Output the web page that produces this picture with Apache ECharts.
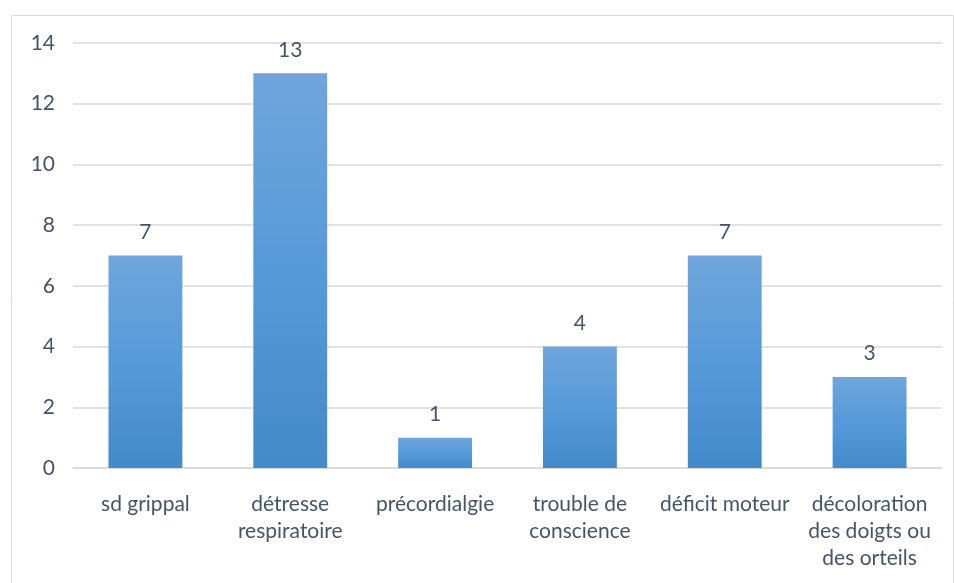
<!DOCTYPE html>
<html>
<head>
<meta charset="utf-8">
<script src="https://cdn.jsdelivr.net/npm/echarts@6/dist/echarts.min.js"></script>
<style>
  html, body { margin: 0; padding: 0; background: #ffffff; }
  #chart { width: 954px; height: 583px; }
</style>
</head>
<body>
<div id="chart"></div>
<script>
// Symptom categories and counts
const categories = [
  'sd grippal',
  'détresse\nrespiratoire',
  'précordialgie',
  'trouble de\nconscience',
  'déficit moteur',
  'décoloration\ndes doigts ou\ndes orteils'
];
const counts = [7, 13, 1, 4, 7, 3];
const yTicks = { min: 0, max: 14, interval: 2 };

const textColor = '#44546a';
const fontFamily = 'Lato, "Open Sans", "Noto Sans", sans-serif';

const chart = echarts.init(document.getElementById('chart'), null, { renderer: 'canvas' });

chart.setOption({
  animation: false,
  backgroundColor: '#ffffff',
  graphic: [{
    type: 'rect',
    left: 9, top: 13,
    shape: { width: 942, height: 580 },
    style: { fill: 'none', stroke: '#d9d9d9', lineWidth: 1 },
    silent: true
  }],
  grid: { left: 73, right: 12, top: 43, bottom: 115, containLabel: false },
  xAxis: {
    type: 'category',
    data: categories,
    axisLine: { show: true, lineStyle: { color: '#d9d9d9', width: 1.5 } },
    axisTick: { show: false },
    axisLabel: {
      color: textColor, fontFamily, fontSize: 21, lineHeight: 27,
      margin: 23, interval: 0
    }
  },
  yAxis: {
    type: 'value',
    min: yTicks.min, max: yTicks.max, interval: yTicks.interval,
    axisLine: { show: false },
    axisTick: { show: false },
    axisLabel: { color: textColor, fontFamily, fontSize: 21, margin: 18 },
    splitLine: { lineStyle: { color: '#d9d9d9', width: 1.5 } }
  },
  series: [{
    type: 'bar',
    data: counts,
    barWidth: '51%',
    itemStyle: {
      color: new echarts.graphic.LinearGradient(0, 0, 0, 1, [
        { offset: 0, color: '#70a5dc' },
        { offset: 0.5, color: '#569ada' },
        { offset: 1, color: '#428aca' }
      ])
    },
    label: {
      show: true, position: 'top', distance: 13,
      color: textColor, fontFamily, fontSize: 21
    }
  }]
});
</script>
</body>
</html>
